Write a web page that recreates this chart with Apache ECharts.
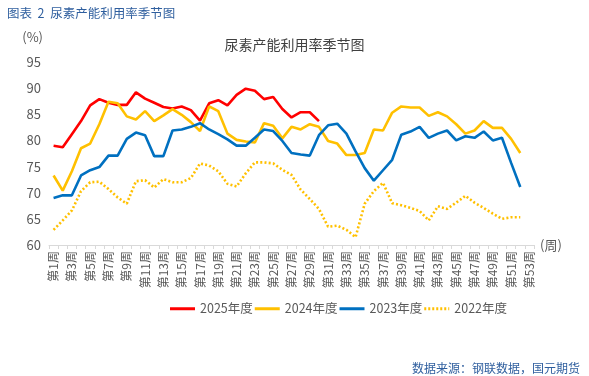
<!DOCTYPE html>
<html>
<head>
<meta charset="utf-8">
<script src="https://cdn.jsdelivr.net/npm/echarts@6/dist/echarts.min.js"></script>
<style>
  html, body { margin: 0; padding: 0; background: #fff; }
  #chart { width: 589px; height: 376px; }
</style>
</head>
<body>
<div id="chart"></div>
<script>
const weeks = []
for (let i = 1; i <= 53; i++) weeks.push('第' + i + '周')

const y2025 = [79.0, 78.7, 81.2, 83.7, 86.7, 87.9, 87.2, 86.8, 86.8, 89.2, 88.0, 87.2, 86.4, 86.1, 86.5, 85.8, 83.8, 87.1, 87.7, 86.7,
  88.7, 89.9, 89.5, 87.9, 88.3, 86.0, 84.4, 85.4, 85.4, 83.7]
const y2024 = [73.3, 70.4, 74.1, 78.5, 79.4, 83.1, 87.4, 87.1, 84.6, 84.0, 85.6, 83.7, 84.8, 86.0, 84.9, 83.5, 81.8, 86.5, 85.6, 81.3,
  80.1, 79.8, 79.6, 83.3, 82.8, 80.4, 82.6, 82.1, 83.1, 82.6, 79.9, 79.4, 77.2, 77.2, 77.6, 82.1, 81.9, 85.3, 86.5, 86.3,
  86.3, 84.7, 85.4, 84.6, 83.1, 81.3, 81.9, 83.7, 82.4, 82.4, 80.3, 77.6]
const y2023 = [69.0, 69.5, 69.5, 73.3, 74.3, 74.9, 77.1, 77.1, 80.3, 81.5, 81.0, 77.0, 77.0, 81.9, 82.1, 82.6, 83.3, 82.1, 81.2, 80.2,
  79.0, 79.0, 80.5, 82.1, 81.8, 79.9, 77.6, 77.3, 77.1, 81.0, 82.9, 83.2, 81.3, 77.9, 74.7, 72.3, 74.3, 76.3, 81.1, 81.7,
  82.6, 80.5, 81.3, 81.9, 80.0, 80.8, 80.5, 81.7, 80.0, 80.5, 75.7, 71.1]
const y2022 = [62.9, 64.7, 66.6, 70.3, 72.0, 72.1, 70.7, 69.1, 67.9, 72.2, 72.4, 71.0, 72.6, 72.0, 72.0, 72.8, 75.6, 75.2, 74.1, 71.7,
  71.2, 73.7, 75.8, 75.8, 75.6, 74.4, 73.4, 70.6, 68.8, 66.9, 63.5, 63.7, 62.9, 61.5, 67.9, 70.3, 71.9, 68.0, 67.6, 67.1,
  66.5, 64.7, 67.4, 66.9, 68.1, 69.4, 68.1, 67.1, 66.0, 65.0, 65.3, 65.3]

const font = '"Noto Sans CJK SC", "Microsoft YaHei", sans-serif'
const chart = echarts.init(document.getElementById('chart'))

// legend icons: plain bar for solid lines, row of small squares for the dotted one
const solidIcon = 'path://M0,0H25V3H0Z'
const dotIcon = 'path://M0,0h2v3h-2zM4,0h2v3h-2zM8,0h2v3h-2zM12,0h2v3h-2zM16,0h2v3h-2zM20,0h2v3h-2zM24,0h1v3h-1z'

const line = (name, data, color, dotted) => ({
  name, type: 'line', data, symbol: 'none', smooth: false,
  lineStyle: { color, width: 2.6, type: dotted ? [2, 2.2] : 'solid' },
  itemStyle: { color }
})

chart.setOption({
  animation: false,
  textStyle: { fontFamily: font },
  title: [
    { text: '图表  2  尿素产能利用率季节图', left: 2, top: 2, textStyle: { fontSize: 12.5, fontWeight: 'normal', color: '#2e5e9e' } },
    { text: '尿素产能利用率季节图', left: 'center', top: 33, textStyle: { fontSize: 14, fontWeight: 'normal', color: '#404040' } },
    { text: '数据来源：钢联数据，国元期货', right: 4, top: 357, textStyle: { fontSize: 12, fontWeight: 'normal', color: '#2e5e9e' } }
  ],
  legend: {
    bottom: 56, left: 165, itemWidth: 25, itemHeight: 3, itemGap: 2,
    textStyle: { fontSize: 12.5, color: '#595959' },
    data: [
      { name: '2025年度', icon: solidIcon },
      { name: '2024年度', icon: solidIcon },
      { name: '2023年度', icon: solidIcon },
      { name: '2022年度', icon: dotIcon }
    ]
  },
  grid: { left: 49, right: 55, top: 62, bottom: 131 },
  xAxis: {
    type: 'category', data: weeks, boundaryGap: true,
    name: '(周)', nameLocation: 'end', nameGap: 6,
    nameTextStyle: { fontSize: 13, color: '#595959', verticalAlign: 'middle' },
    axisLine: { lineStyle: { color: '#d9d9d9' } },
    axisTick: { show: true, interval: 0, length: 4, lineStyle: { color: '#d9d9d9' } },
    axisLabel: { interval: 1, rotate: 90, fontSize: 12, color: '#595959', margin: 6 }
  },
  yAxis: {
    type: 'value', min: 60, max: 95, interval: 5,
    name: '(%)', nameLocation: 'end', nameGap: 18,
    nameTextStyle: { fontSize: 13, color: '#595959', align: 'right', padding: [0, 6, 0, 0] },
    axisLine: { show: false }, axisTick: { show: false }, splitLine: { show: false },
    axisLabel: { fontSize: 13, color: '#595959', margin: 8 }
  },
  series: [
    line('2025年度', y2025, '#ff0000', false),
    line('2024年度', y2024, '#ffc000', false),
    line('2023年度', y2023, '#0070c0', false),
    line('2022年度', y2022, '#ffc000', true)
  ]
})
</script>
</body>
</html>
